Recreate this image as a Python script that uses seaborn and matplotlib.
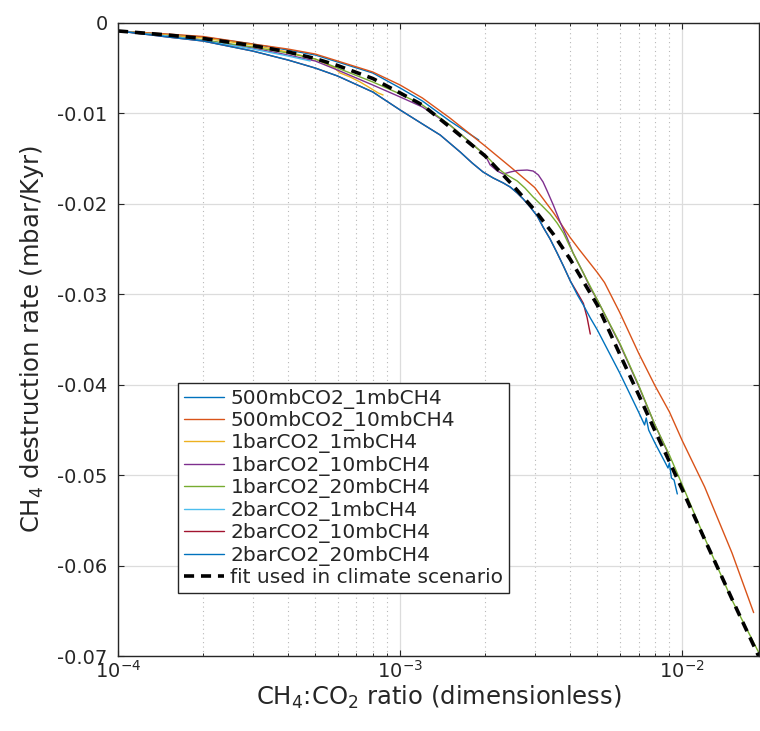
"""CH4 destruction rate vs CH4:CO2 ratio, photochemistry runs plus the fit
used for the climate scenario. MATLAB-like look: box, inward ticks, dotted
minor grid on the log x axis.
"""
import numpy as np
import matplotlib
matplotlib.use("Agg")
import matplotlib.pyplot as plt
import matplotlib.ticker as mticker
import seaborn as sns

# --- values ---------------------------------------------------------------
LABELS = [
    "500mbCO2_1mbCH4",
    "500mbCO2_10mbCH4",
    "1barCO2_1mbCH4",
    "1barCO2_10mbCH4",
    "1barCO2_20mbCH4",
    "2barCO2_1mbCH4",
    "2barCO2_10mbCH4",
    "2barCO2_20mbCH4",
]
FIT_LABEL = "fit used in climate scenario"

# MATLAB default colour order
COLORS = ["#0072BD", "#D95319", "#EDB120", "#7E2F8E",
          "#77AC30", "#4DBEEE", "#A2142F", "#0072BD"]

B1_X = [1e-4, 1.5e-4, 2e-4, 3e-4, 4e-4, 5e-4, 6e-4, 8e-4, 1e-3, 1.2e-3, 1.5e-3, 1.9e-3]
B1_Y = [-0.00088, -0.00127, -0.00155, -0.00232, -0.00299, -0.00354, -0.00431,
        -0.00553, -0.00719, -0.00863, -0.01084, -0.01294]

OR_X = [1e-4, 1.5e-4, 2e-4, 3e-4, 4e-4, 5e-4, 6e-4, 8e-4, 1e-3, 1.2e-3, 1.5e-3,
        2e-3, 2.5e-3, 2.8e-3, 3e-3, 3.5e-3, 4e-3, 4.3e-3, 5e-3, 5.3e-3, 6e-3,
        7e-3, 8e-3, 9e-3, 1e-2, 1.2e-2, 1.5e-2, 1.79e-2]
OR_Y = [-0.00088, -0.00122, -0.00149, -0.00232, -0.00288, -0.00343, -0.0042,
        -0.00542, -0.00686, -0.0083, -0.0105, -0.0136, -0.0161, -0.0174, -0.0182,
        -0.021, -0.0237, -0.025, -0.0276, -0.0287, -0.0320, -0.0365, -0.0401,
        -0.043, -0.0462, -0.0513, -0.0586, -0.0652]

YE_X = [1e-4, 1.5e-4, 2e-4, 3e-4, 4e-4, 5e-4, 5.79e-4, 6.13e-4, 6.65e-4, 7.21e-4,
        7.83e-4, 8.36e-4, 8.7e-4]
YE_Y = [-0.00088, -0.00133, -0.00166, -0.00243, -0.00321, -0.00398, -0.00487,
        -0.00553, -0.00597, -0.00652, -0.00719, -0.00774, -0.00796]

PU_X = [1e-4, 1.5e-4, 2e-4, 3e-4, 4e-4, 5e-4, 6e-4, 8e-4, 1e-3, 1.2e-3, 1.5e-3,
        2e-3, 2.085e-3, 2.21e-3, 2.32e-3, 2.455e-3, 2.6e-3, 2.82e-3, 2.96e-3,
        3.09e-3, 3.21e-3, 3.32e-3, 3.49e-3, 3.69e-3, 3.91e-3, 4.1e-3, 4.46e-3,
        4.72e-3, 5e-3, 6e-3, 7e-3, 8e-3, 9e-3]
PU_Y = [-0.00088, -0.00144, -0.00188, -0.00276, -0.00354, -0.0042, -0.0052,
        -0.00686, -0.00818, -0.00929, -0.01128, -0.01460, -0.0157, -0.01637,
        -0.0167, -0.01648, -0.01631, -0.01626, -0.01637, -0.01681, -0.01758,
        -0.01858, -0.02013, -0.02201, -0.02378, -0.02543, -0.02765, -0.0293,
        -0.03063, -0.0355, -0.04014, -0.04445, -0.04788]

GR_X = [1e-4, 1.5e-4, 2e-4, 3e-4, 4e-4, 5e-4, 6e-4, 8e-4, 1e-3, 1.2e-3, 1.5e-3,
        2e-3, 2.085e-3, 2.21e-3, 2.36e-3, 2.6e-3, 2.77e-3, 2.96e-3, 3.19e-3,
        3.4e-3, 3.6e-3, 3.79e-3, 4.1e-3, 4.46e-3, 5e-3, 6e-3, 7e-3, 8e-3, 9e-3,
        1e-2, 1.2e-2, 1.5e-2, 1.87e-2]
GR_Y = [-0.00088, -0.00144, -0.00188, -0.00265, -0.00332, -0.00398, -0.00498,
        -0.00652, -0.00785, -0.00907, -0.01128, -0.01460, -0.01515, -0.01603,
        -0.0167, -0.01747, -0.01825, -0.01924, -0.02024, -0.02112, -0.02212,
        -0.02322, -0.02543, -0.02765, -0.03063, -0.03539, -0.04003, -0.04445,
        -0.04777, -0.05109, -0.05695, -0.06381, -0.06967]

LB_X = [1e-4, 1.5e-4, 2e-4, 3e-4, 4e-4, 4.8e-4]
LB_Y = [-0.00088, -0.00144, -0.00194, -0.00288, -0.00365, -0.0042]

RD_X = [1e-4, 1.5e-4, 2e-4, 3e-4, 4e-4, 5e-4, 6e-4, 8e-4, 1e-3, 1.2e-3, 1.387e-3,
        1.633e-3, 1.8e-3, 1.968e-3, 2.137e-3, 2.32e-3, 2.455e-3, 2.6e-3, 2.73e-3,
        2.89e-3, 3.06e-3, 3.21e-3, 3.4e-3, 3.6e-3, 3.79e-3, 4.01e-3, 4.25e-3,
        4.46e-3, 4.6e-3, 4.72e-3]
RD_Y = [-0.00088, -0.00155, -0.00199, -0.0031, -0.00409, -0.00498, -0.00586,
        -0.00763, -0.00962, -0.01117, -0.01239, -0.01427, -0.01548, -0.01648,
        -0.01714, -0.01769, -0.01814, -0.0188, -0.01946, -0.02035, -0.02134,
        -0.02256, -0.02389, -0.02543, -0.02687, -0.02853, -0.02986, -0.0310,
        -0.0326, -0.0344]

B2_X = [1e-4, 1.5e-4, 2e-4, 3e-4, 4e-4, 5e-4, 6e-4, 8e-4, 1e-3, 1.2e-3, 1.387e-3,
        1.633e-3, 1.8e-3, 1.968e-3, 2.137e-3, 2.32e-3, 2.455e-3, 2.6e-3, 2.73e-3,
        2.89e-3, 3.06e-3, 3.21e-3, 3.4e-3, 3.6e-3, 3.79e-3, 4.01e-3, 4.25e-3,
        4.46e-3, 4.72e-3, 5e-3, 6e-3, 7e-3, 7.35e-3, 7.45e-3, 7.6e-3, 8e-3,
        8.6e-3, 8.9e-3, 9.0e-3, 9.15e-3, 9.35e-3, 9.6e-3]
B2_Y = [-0.00088, -0.00155, -0.00199, -0.0031, -0.00409, -0.00498, -0.00586,
        -0.00763, -0.00962, -0.01117, -0.01239, -0.01427, -0.01548, -0.01648,
        -0.01714, -0.01769, -0.01814, -0.0188, -0.01946, -0.02035, -0.02134,
        -0.02256, -0.02389, -0.02543, -0.02687, -0.02853, -0.03008, -0.03119,
        -0.03262, -0.03395, -0.0387, -0.04302, -0.04445, -0.04368, -0.04501,
        -0.04645, -0.04832, -0.04921, -0.04866, -0.05031, -0.05054, -0.05208]

FIT_X = [1e-4, 1.5e-4, 2e-4, 3e-4, 4e-4, 5e-4, 6e-4, 8e-4, 1e-3, 1.2e-3, 1.5e-3,
         2e-3, 2.5e-3, 3e-3, 3.5e-3, 4e-3, 5e-3, 6e-3, 7e-3, 8e-3, 9e-3, 1e-2,
         1.2e-2, 1.5e-2, 1.87e-2]
FIT_Y = [-0.00088, -0.00133, -0.00171, -0.00249, -0.0032, -0.00393, -0.0047,
         -0.00614, -0.00774, -0.00907, -0.0115, -0.0147, -0.0179, -0.0207,
         -0.0234, -0.0261, -0.0312, -0.0366, -0.0411, -0.0451, -0.0485, -0.0516,
         -0.0571, -0.0637, -0.0701]

SERIES = [(B1_X, B1_Y), (OR_X, OR_Y), (YE_X, YE_Y), (PU_X, PU_Y),
          (GR_X, GR_Y), (LB_X, LB_Y), (RD_X, RD_Y), (B2_X, B2_Y)]

XLIM = (1e-4, 1.87e-2)
YLIM = (-0.07, 0.0)


def main():
    sns.set_theme(style="white")
    plt.rcParams.update({
        "font.family": ["DejaVu Sans"],
        "mathtext.default": "regular",
        "axes.unicode_minus": False,
        "axes.edgecolor": "#262626",
        "axes.linewidth": 1.0,
        "text.color": "#262626",
        "axes.labelcolor": "#262626",
        "xtick.color": "#262626",
        "ytick.color": "#262626",
    })

    W, H = 760, 731
    fig = plt.figure(figsize=(W / 100, H / 100), dpi=100)
    ax = fig.add_axes([118 / W, 1 - 656 / H, (759 - 118) / W, (656 - 23) / H])

    for (xs, ys), lab, col in zip(SERIES, LABELS, COLORS):
        sns.lineplot(x=xs, y=ys, ax=ax, color=col, lw=1.0, label=lab,
                     sort=False, estimator=None, legend=False)
    sns.lineplot(x=FIT_X, y=FIT_Y, ax=ax, color="black", lw=2.6,
                 linestyle="--", label=FIT_LABEL, sort=False,
                 estimator=None, legend=False)
    ax.lines[-1].set_dashes((2.8, 1.9))

    ax.set_xscale("log")
    ax.set_xlim(*XLIM)
    ax.set_ylim(*YLIM)

    ax.xaxis.set_major_locator(mticker.LogLocator(base=10, numticks=10))
    ax.xaxis.set_major_formatter(mticker.LogFormatterMathtext())
    ax.xaxis.set_minor_locator(mticker.LogLocator(base=10, subs=np.arange(2, 10), numticks=20))
    ax.xaxis.set_minor_formatter(mticker.NullFormatter())
    ax.yaxis.set_major_locator(mticker.MultipleLocator(0.01))
    ax.yaxis.set_major_formatter(mticker.FuncFormatter(
        lambda v, _: "0" if abs(v) < 1e-9 else f"{v:.2f}"))

    ax.grid(True, which="major", axis="both", color="#dcdcdc", lw=0.9, ls="-")
    ax.grid(True, which="minor", axis="x", color="#b8b8b8", lw=0.8, ls=(0, (1, 3)))
    ax.set_axisbelow(True)

    ax.tick_params(which="both", direction="in", top=True, right=True,
                   bottom=True, left=True)
    ax.tick_params(which="major", length=4, width=0.8, labelsize=14)
    ax.tick_params(which="minor", length=2.5, width=0.7)
    ax.tick_params(axis="x", which="major", pad=3)
    ax.tick_params(axis="y", which="major", pad=7.5)
    for s in ax.spines.values():
        s.set_visible(True)

    ax.set_xlabel(r"CH$_4$:CO$_2$ ratio (dimensionless)", fontsize=17.5, labelpad=1)
    ax.set_ylabel(r"CH$_4$ destruction rate (mbar/Kyr)", fontsize=17.5, labelpad=8)

    leg = ax.legend(loc="lower left", bbox_to_anchor=(0.0936, 0.0995),
                    borderaxespad=0, fontsize=14.5, frameon=True, fancybox=False,
                    edgecolor="#262626", framealpha=1, handlelength=2.0,
                    handletextpad=0.3, borderpad=0.3, labelspacing=0.12)
    leg.get_frame().set_linewidth(1.0)

    fig.savefig("out.png", dpi=100)
    plt.close(fig)


if __name__ == "__main__":
    main()
